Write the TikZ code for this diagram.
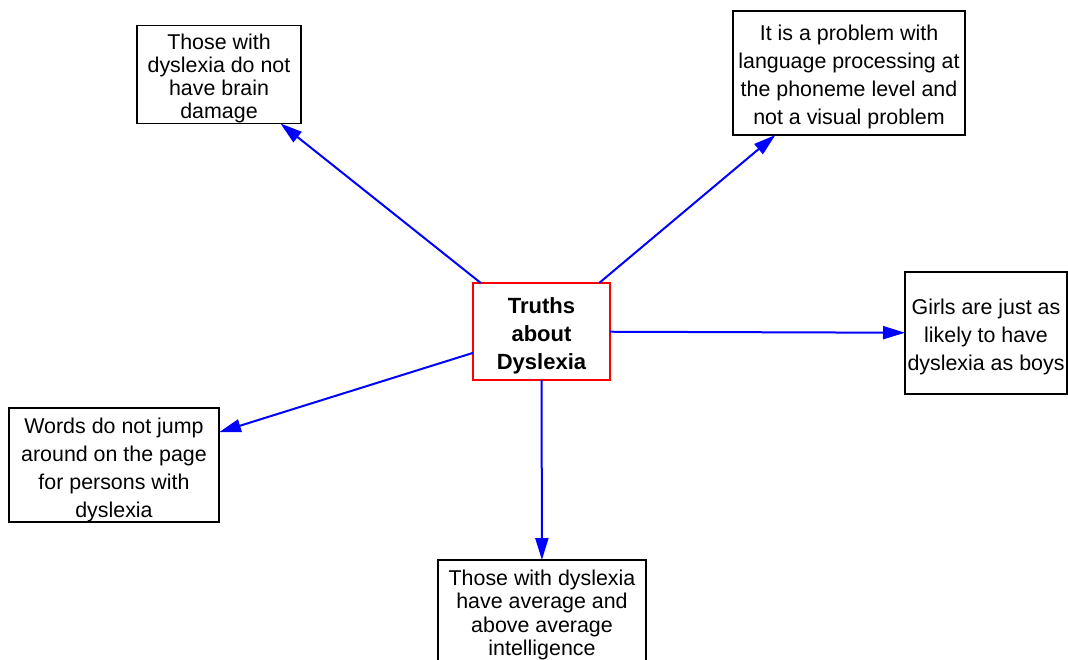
\documentclass[tikz,border=0pt]{standalone}
\usepackage{fontspec}
\setmainfont{Liberation Sans}
\usetikzlibrary{positioning, arrows, arrows.meta}
% strut that pushes the first line down a little
\newcommand{\lift}[1]{\rule{0pt}{#1}}

\begin{document}
\begin{tikzpicture}[x=1pt, y=-1pt, line width=1.1pt]
% Block styles
\tikzstyle{fact}=[inner sep=0pt, outer sep=0pt, draw=black, black, align=center, font=\fontsize{21.4}{28}\selectfont]
\tikzstyle{fact2}=[fact, font=\fontsize{21.4}{23.3}\selectfont]
\tikzstyle{hub}=[fact, draw=red, line width=2pt, font=\fontsize{22}{28}\selectfont\bfseries]
\tikzstyle{link}=[blue, line width=2pt, -{Triangle[length=22pt, width=13pt]}]
\useasboundingbox (0,0) rectangle (1068,659);
% Centre
\node[hub, minimum width=137, minimum height=97] (hub) at (541.5,331.5) {\lift{24pt}Truths\\about\\Dyslexia};
% Facts round it
\node[fact2, minimum width=164, minimum height=97] (brain) at (219,74.5) {\lift{23.5pt}Those with\\dyslexia do not\\have brain\\damage};
\node[fact, minimum width=232, minimum height=124] (phon) at (849,73) {\lift{23.5pt}It is a problem with\\language processing at\\the phoneme level and\\not a visual problem};
\node[fact, minimum width=162, minimum height=122] (girls) at (986,333) {\lift{23.5pt}Girls are just as\\likely to have\\dyslexia as boys};
\node[fact, minimum width=210, minimum height=114] (words) at (114,465) {\lift{25.5pt}Words do not jump\\around on the page\\for persons with\\dyslexia};
\node[fact2, minimum width=208, minimum height=105] (iq) at (542,612.5) {\lift{20.5pt}Those with dyslexia\\have average and\\above average\\intelligence};
% Arrows
\draw[link] (hub)--(brain);
\draw[link] (hub)--(phon);
\draw[link] (hub)--(girls);
\draw[link] (hub)--(words);
\draw[link] (hub)--(iq);
\end{tikzpicture}
\end{document}
